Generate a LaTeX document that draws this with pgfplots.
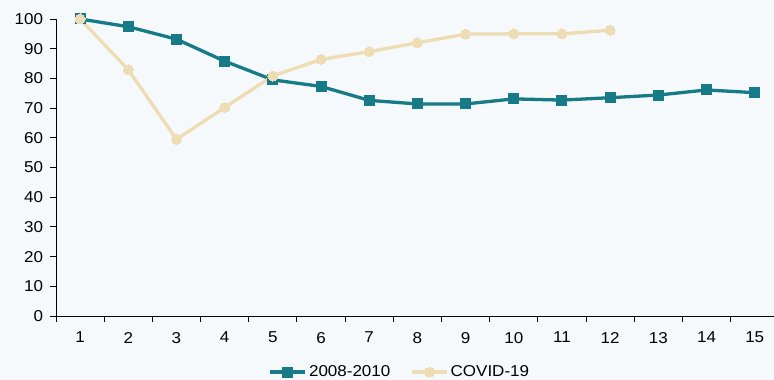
\documentclass[border=0pt]{standalone}
\usepackage{pgfplots}
\pgfplotsset{compat=1.18}
\usepackage{fontspec}
\setmainfont{Liberation Sans}[FakeStretch=1.08]

\definecolor{bgcol}{RGB}{245,249,251}
\definecolor{teal08}{RGB}{22,122,135}
\definecolor{covid}{RGB}{238,221,180}

% Index of output (first month = 100)
\pgfplotstableread{
m  v
1  100
2  97.4
3  93.2
4  85.8
5  79.5
6  77.3
7  72.6
8  71.4
9  71.4
10 73.1
11 72.7
12 73.5
13 74.4
14 76.1
15 75.2
}\crisis

\pgfplotstableread{
m  v
1  100
2  82.9
3  59.5
4  70.2
5  80.8
6  86.4
7  89.0
8  92.0
9  94.9
10 95.0
11 95.0
12 96.2
}\covid

\newcommand\chartfont{\fontsize{15.8}{18}\selectfont}

\begin{document}
\begin{tikzpicture}[font=\chartfont]
\fill[bgcol] (-56bp,-64bp) rectangle (718bp,316bp);
\useasboundingbox (-56bp,-64bp) rectangle (718bp,316bp);
\begin{axis}[
  scale only axis,
  width=718bp, height=297bp,
  xmin=0.5, xmax=15.4,
  ymin=0, ymax=100,
  clip=false,
  axis x line*=bottom,
  axis y line*=left,
  axis line style={black, line width=0.9bp},
  xtick={1,...,15},
  major x tick style={draw=none},
  minor xtick={0.5,1.5,...,14.5},
  minor x tick style={black, line width=0.9bp},
  minor tick length=6bp,
  ytick={0,10,...,100},
  major tick length=5.5bp,
  tick align=outside,
  y tick style={black, line width=0.9bp},
  tick label style={font=\chartfont},
  /pgf/number format/assume math mode=true,
  xticklabel style={yshift=-7bp},
  yticklabel style={xshift=-4bp},
  legend columns=2,
  legend style={draw=none, fill=none, at={(0.479,-0.189)}, anchor=center,
    /tikz/every even column/.append style={column sep=18bp},
    font=\chartfont},
  legend image code/.code={
    \draw[#1, mark=none] (0bp,0bp) -- (35bp,0bp);
    \path[#1, only marks] plot coordinates {(17.5bp,0bp)};
  },
]
\addplot[teal08, line width=3.3bp, mark=square*, mark size=5bp,
  mark options={solid, line width=0bp}] table[x=m, y=v] {\crisis};
\addlegendentry{2008-2010}
\addplot[covid, line width=3.3bp, mark=*, mark size=5bp,
  mark options={solid, line width=0bp}] table[x=m, y=v] {\covid};
\addlegendentry{COVID-19}
\end{axis}
\end{tikzpicture}
\end{document}
